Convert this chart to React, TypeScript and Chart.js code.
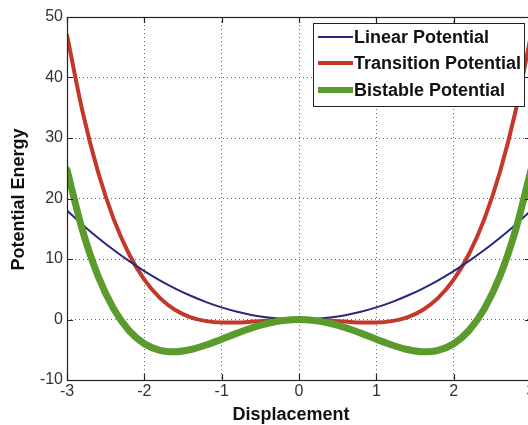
import React, { useEffect, useRef } from "react";
import { Chart, registerables } from "chart.js";

Chart.register(...registerables);

const displacement = [
  -3, -2.8, -2.6, -2.4, -2.2, -2, -1.8, -1.6, -1.4, -1.2, -1, -0.8, -0.6, -0.4, -0.2, 0,
  0.2, 0.4, 0.6, 0.8, 1, 1.2, 1.4, 1.6, 1.8, 2, 2.2, 2.4, 2.6, 2.8, 3,
];
const linearPotential = [
  18, 15.68, 13.52, 11.52, 9.68, 8, 6.48, 5.12, 3.92, 2.88, 2, 1.28, 0.72, 0.32, 0.08, 0,
  0.08, 0.32, 0.72, 1.28, 2, 2.88, 3.92, 5.12, 6.48, 8, 9.68, 11.52, 13.52, 15.68, 18,
];
const transitionPotential = [
  46.98, 34.42, 24.46, 16.72, 10.87, 6.58, 3.57, 1.58, 0.37, -0.27, -0.5, -0.49, -0.35, -0.18, -0.05, 0,
  -0.05, -0.18, -0.35, -0.49, -0.5, -0.27, 0.37, 1.58, 3.57, 6.58, 10.87, 16.72, 24.46, 34.42, 46.98,
];
const bistablePotential = [
  24.75, 14.74, 7.23, 1.84, -1.79, -4, -5.09, -5.33, -4.96, -4.21, -3.25, -2.25, -1.34, -0.62, -0.16, 0,
  -0.16, -0.62, -1.34, -2.25, -3.25, -4.21, -4.96, -5.33, -5.09, -4, -1.79, 1.84, 7.23, 14.74, 24.75,
];
const seriesLabels = ["Linear Potential", "Transition Potential", "Bistable Potential"];
const xTitle = "Displacement";
const yTitle = "Potential Energy";

const FONT = "'Liberation Sans', Arial, Helvetica, sans-serif";

const framePlugin = {
  id: "frame",
  afterDatasetsDraw(chart: any) {
    const { ctx, chartArea } = chart;
    const { left, top, right, bottom } = chartArea;
    const xs = chart.scales.x;
    const ys = chart.scales.y;
    ctx.save();
    ctx.strokeStyle = "#222";
    ctx.lineWidth = 1.2;
    ctx.strokeRect(Math.round(left) + 0.5, Math.round(top) + 0.5, Math.round(right - left), Math.round(bottom - top));
    ctx.beginPath();
    xs.ticks.forEach((t: any) => {
      const px = Math.round(xs.getPixelForValue(t.value)) + 0.5;
      ctx.moveTo(px, bottom);
      ctx.lineTo(px, bottom - 6);
      ctx.moveTo(px, top);
      ctx.lineTo(px, top + 6);
    });
    ys.ticks.forEach((t: any) => {
      const py = Math.round(ys.getPixelForValue(t.value)) + 0.5;
      ctx.moveTo(left, py);
      ctx.lineTo(left + 6, py);
      ctx.moveTo(right, py);
      ctx.lineTo(right - 6, py);
    });
    ctx.stroke();
    ctx.restore();
  },
  afterDraw(chart: any) {
    const { ctx, chartArea } = chart;
    ctx.save();
    // axis titles
    ctx.fillStyle = "#111";
    ctx.font = `bold 18px ${FONT}`;
    ctx.textAlign = "center";
    ctx.textBaseline = "middle";
    ctx.fillText(xTitle, 291, 415);
    ctx.save();
    ctx.translate(19, (chartArea.top + chartArea.bottom) / 2 + 1);
    ctx.rotate(-Math.PI / 2);
    ctx.fillText(yTitle, 0, 0);
    ctx.restore();
    // legend
    const bx = 313, by = 23, bw = 211, bh = 83;
    ctx.fillStyle = "#fff";
    ctx.fillRect(bx, by, bw, bh);
    ctx.strokeStyle = "#222";
    ctx.lineWidth = 1;
    ctx.strokeRect(bx + 0.5, by + 0.5, bw, bh);
    const rows = [37, 63, 90];
    chart.data.datasets.forEach((ds: any, i: number) => {
      const y = rows[i];
      ctx.strokeStyle = ds.borderColor;
      ctx.lineWidth = ds.legendWidth;
      ctx.beginPath();
      ctx.moveTo(318, y);
      ctx.lineTo(353, y);
      ctx.stroke();
      ctx.fillStyle = "#111";
      ctx.font = `bold 18px ${FONT}`;
      ctx.textBaseline = "middle";
      ctx.textAlign = "left";
      ctx.fillText(ds.label, 354, y + 1);
    });
    ctx.restore();
  },
};

export default function App() {
  const ref = useRef<HTMLCanvasElement | null>(null);
  useEffect(() => {
    if (!ref.current) return;
    const mk = (vals: number[]) => displacement.map((x, i) => ({ x, y: vals[i] }));
    const chart = new Chart(ref.current, {
      type: "line",
      data: {
        datasets: [
          {
            label: seriesLabels[0],
            data: mk(linearPotential),
            borderColor: "#27287e",
            borderWidth: 2,
            legendWidth: 2,
            order: 1,
          } as any,
          {
            label: seriesLabels[1],
            data: mk(transitionPotential),
            borderColor: "#c4382a",
            borderWidth: 4,
            legendWidth: 4,
            order: 2,
          } as any,
          {
            label: seriesLabels[2],
            data: mk(bistablePotential),
            borderColor: "#5b9a2c",
            borderWidth: 7,
            legendWidth: 6,
            order: 0,
          } as any,
        ],
      },
      options: {
        animation: false,
        responsive: false,
        maintainAspectRatio: false,
        layout: { padding: { top: 17, right: 9, left: 0, bottom: 0 } },
        elements: {
          point: { radius: 0, hoverRadius: 0 },
          line: { cubicInterpolationMode: "monotone", borderCapStyle: "round", borderJoinStyle: "round", fill: false },
        },
        plugins: { legend: { display: false }, tooltip: { enabled: false } },
        scales: {
          x: {
            type: "linear",
            min: -3,
            max: 3,
            afterFit: (s: any) => { s.height = 45; },
            ticks: { stepSize: 1, padding: 2, color: "#333", font: { family: FONT, size: 16 }, maxRotation: 0 },
            grid: { color: "#666", lineWidth: 1, drawTicks: false },
            border: { display: false, dash: [1, 3] },
          },
          y: {
            type: "linear",
            min: -10,
            max: 50,
            afterFit: (s: any) => { s.width = 67; },
            ticks: { stepSize: 10, padding: 4, color: "#333", font: { family: FONT, size: 16 } },
            grid: { color: "#666", lineWidth: 1, drawTicks: false },
            border: { display: false, dash: [1, 3] },
          },
        },
      } as any,
      plugins: [framePlugin],
    });
    return () => chart.destroy();
  }, []);
  return (
    <div style={{ position: "fixed", left: 0, top: 0, width: 528, height: 425, overflow: "hidden", background: "#fff" }}>
      <canvas ref={ref} width={540} height={425} style={{ display: "block", width: 540, height: 425 }} />
    </div>
  );
}
